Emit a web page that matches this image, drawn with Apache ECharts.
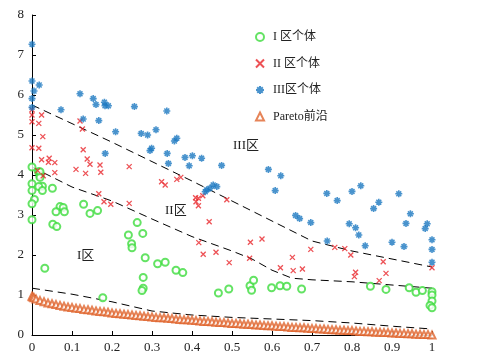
<!DOCTYPE html>
<html>
<head>
<meta charset="utf-8">
<script src="https://cdn.jsdelivr.net/npm/echarts@6/dist/echarts.min.js"></script>
<style>
html,body{margin:0;padding:0;background:#fff;}
#c{width:493px;height:360px;}
</style>
</head>
<body>
<div id="c"></div>
<script>
// ---- data ----
var xTicks = ['0','0.1','0.2','0.3','0.4','0.5','0.6','0.7','0.8','0.9','1'];
var yTicks = ['0','1','2','3','4','5','6','7','8'];

var zone1Points = [
  [0,4.2],[0.016,4.08],[0.02,3.98],[0.02,4.08],[0.02,3.94],[0,3.78],[0,3.61],[0.026,3.72],[0.017,3.71],[0.026,3.61],
  [0.006,3.39],[0,3.28],[0,2.88],[0.051,3.67],[0.07,3.21],[0.06,3.08],[0.078,3.19],[0.081,3.08],[0.052,2.77],[0.062,2.71],
  [0.129,3.27],[0.145,3.04],[0.164,3.11],[0.032,1.67],[0.177,0.93],[0.263,2.81],[0.241,2.5],[0.277,2.54],[0.249,2.28],[0.25,2.18],
  [0.283,1.93],[0.314,1.78],[0.333,1.82],[0.36,1.62],[0.377,1.56],[0.278,1.44],[0.278,1.17],[0.275,1.11],[0.466,1.05],[0.492,1.15],
  [0.545,1.23],[0.554,1.37],[0.549,1.12],[0.599,1.18],[0.62,1.23],[0.637,1.22],[0.674,1.15],[0.846,1.22],[0.885,1.14],[0.943,1.18],
  [0.96,1.07],[0.976,1.11],[1,1.08],[1,1.0],[1,0.85],[0.995,0.74],[1,0.68]
];

var zone2Points = [
  [0,5.63],[0,5.5],[0.024,5.5],[0,5.33],[0.017,5.29],[0.027,4.96],[0,4.68],[0.017,4.67],[0.024,4.38],[0.043,4.42],
  [0.041,4.32],[0.057,4.31],[0.057,4.06],[0.12,5.35],[0.126,5.15],[0.128,4.63],[0.138,4.4],[0.145,4.27],[0.11,4.14],[0.134,4.04],
  [0.17,4.25],[0.172,4.07],[0.028,3.98],[0.014,4.11],[0.167,3.53],[0.18,3.33],[0.197,3.27],[0.243,4.21],[0.324,3.83],[0.333,3.75],
  [0.362,3.89],[0.372,3.94],[0.409,3.43],[0.416,3.42],[0.427,3.48],[0.487,3.38],[0.243,3.29],[0.41,3.33],[0.416,3.23],[0.443,2.83],
  [0.417,2.31],[0.428,2.02],[0.46,2.07],[0.493,1.81],[0.546,2.32],[0.575,2.4],[0.544,1.92],[0.621,1.68],[0.651,1.94],[0.653,1.61],
  [0.697,2.14],[0.757,2.19],[0.782,2.16],[0.797,2.0],[0.676,1.65],[0.878,1.83],[0.809,1.57],[0.806,1.46],[0.885,1.54],[0.868,1.36],
  [1,1.68]
];

var zone3Points = [
  [0,7.27],[0,6.35],[0.005,6.1],[0.018,6.25],[0,5.91],[0,5.69],[0.0725,5.63],[0.12,6.03],[0.128,5.4],[0.153,5.91],
  [0.16,5.76],[0.167,5.36],[0.181,5.82],[0.1825,5.73],[0.191,5.73],[0.209,5.08],[0.183,4.54],[0.256,5.71],[0.337,5.6],[0.273,5.04],
  [0.289,5.0],[0.31,5.13],[0.356,4.85],[0.362,4.92],[0.299,4.67],[0.295,4.61],[0.338,4.54],[0.3825,4.44],[0.401,4.48],[0.424,4.42],
  [0.341,4.29],[0.393,4.23],[0.474,4.24],[0.437,3.63],[0.445,3.67],[0.453,3.75],[0.462,3.71],[0.433,3.58],[0.591,4.14],[0.622,3.98],
  [0.608,3.61],[0.659,2.99],[0.669,2.91],[0.697,2.81],[0.737,3.54],[0.763,3.36],[0.8,3.59],[0.822,3.73],[0.793,2.78],[0.809,2.68],
  [0.817,2.5],[0.833,2.23],[0.738,2.35],[0.854,3.16],[0.867,3.32],[0.9,2.32],[0.917,3.53],[0.946,3.03],[0.935,2.79],[0.988,2.78],
  [0.983,2.66],[0.93,2.21],[1,2.38],[1,2.14],[1,1.82]
];

var paretoX = [0,0.002,0.005,0.01,0.02,0.03,0.04,0.05,0.06,0.07,0.08,0.09,0.10,0.11,0.12,0.13,0.14,0.15,0.16,0.17,0.18,0.19,
  0.20,0.21,0.22,0.23,0.24,0.25,0.26,0.27,0.28,0.29,0.30,0.31,0.32,0.33,0.34,0.35,0.36,0.37,0.38,0.39,
  0.40,0.41,0.42,0.43,0.44,0.45,0.46,0.47,0.48,0.49,0.50,0.51,0.52,0.53,0.54,0.55,0.56,0.57,0.58,0.59,
  0.60,0.61,0.62,0.63,0.64,0.65,0.66,0.67,0.68,0.69,0.70,0.71,0.72,0.73,0.74,0.75,0.76,0.77,0.78,0.79,
  0.80,0.81,0.82,0.83,0.84,0.85,0.86,0.87,0.88,0.89,0.90,0.91,0.92,0.93,0.94,0.95,0.96,0.97,0.98,0.99,1.00];
var paretoY = [0.97,0.95,0.93,0.9,0.86,0.83,0.8,0.78,0.76,0.74,0.72,0.7,0.69,0.67,0.66,0.64,0.63,0.62,0.6,0.59,0.58,0.57,
  0.55,0.54,0.53,0.52,0.51,0.5,0.49,0.48,0.47,0.46,0.45,0.44,0.43,0.43,0.42,0.41,0.4,0.39,0.38,0.38,
  0.37,0.36,0.35,0.34,0.34,0.33,0.32,0.31,0.31,0.3,0.29,0.29,0.28,0.27,0.27,0.26,0.25,0.25,0.24,0.23,
  0.23,0.22,0.21,0.21,0.2,0.19,0.19,0.18,0.18,0.17,0.16,0.16,0.15,0.15,0.14,0.13,0.13,0.12,0.12,0.11,
  0.11,0.1,0.09,0.09,0.08,0.08,0.07,0.07,0.06,0.06,0.05,0.05,0.04,0.04,0.03,0.03,0.02,0.02,0.01,0.01,0.0];

var boundary32 = [[0,5.75],[0.2,4.82],[0.4,3.85],[0.55,3.1],[0.7,2.35],[0.8,2.1],[0.9,1.9],[1,1.7]];
var boundary21 = [[0,4.2],[0.1,3.7],[0.2,3.35],[0.3,2.9],[0.4,2.46],[0.5,2.1],[0.55,1.9],[0.6,1.62],[0.65,1.42],[0.7,1.38],[0.8,1.33],[0.9,1.25],[1,1.17]];
var boundary1P = [[0,1.17],[0.1,1.02],[0.2,0.83],[0.3,0.6],[0.4,0.5],[0.5,0.44],[0.6,0.4],[0.7,0.36],[0.8,0.3],[0.9,0.22],[1,0.15]];

var seriesNames = ['I 区个体','II 区个体','III区个体','Pareto前沿'];
var regionLabels = ['III区','II区','I区'];

// ---- chart ----
var serif = '"Liberation Serif","Times New Roman","Noto Sans CJK SC",serif';
var paretoPoints = paretoX.map(function(x,i){return [x,paretoY[i]];});
function dashed(d){
  return {type:'line',data:d,symbol:'none',silent:true,z:1,
    lineStyle:{color:'#000',width:1,type:[8,5]}};
}
var chart = echarts.init(document.getElementById('c'));
chart.setOption({
  animation:false,
  backgroundColor:'#fff',
  grid:{left:32,right:61,top:15,bottom:25,containLabel:false},
  xAxis:{type:'value',min:0,max:1,interval:0.1,
    axisLine:{show:true,onZero:false,lineStyle:{color:'#000',width:1}},
    axisTick:{show:true,inside:true,length:4,lineStyle:{color:'#000'}},
    splitLine:{show:false},
    axisLabel:{color:'#222',fontFamily:serif,fontSize:13,margin:6,
      formatter:function(v){var i=Math.round(v*10);return xTicks[i];}}
  },
  yAxis:{type:'value',min:0,max:8,interval:1,
    axisLine:{show:true,onZero:false,lineStyle:{color:'#000',width:1}},
    axisTick:{show:true,inside:true,length:4,lineStyle:{color:'#000'}},
    splitLine:{show:false},
    axisLabel:{color:'#222',fontFamily:serif,fontSize:13,margin:8,
      formatter:function(v){return yTicks[Math.round(v)];}}
  },
  legend:{orient:'vertical',left:250,top:26,itemWidth:8,itemHeight:8,itemGap:14.5,
    data:seriesNames,
    textStyle:{fontFamily:serif,fontSize:12,color:'#222',padding:[0,0,0,4]}},
  graphic:[
    {type:'text',left:233,top:139,style:{text:regionLabels[0],font:'13px '+serif,fill:'#222'}},
    {type:'text',left:165,top:204,style:{text:regionLabels[1],font:'13px '+serif,fill:'#222'}},
    {type:'text',left:77,top:249,style:{text:regionLabels[2],font:'13px '+serif,fill:'#222'}}
  ],
  series:[
    dashed(boundary32), dashed(boundary21), dashed(boundary1P),
    {name:seriesNames[0],type:'scatter',data:zone1Points,symbol:'emptyCircle',symbolSize:7,
      itemStyle:{color:'#3ddc3d',borderColor:'#3ddc3d',borderWidth:1},z:3},
    {name:seriesNames[1],type:'scatter',data:zone2Points,symbol:'path://M0,0L10,10M10,0L0,10',symbolSize:5,
      itemStyle:{color:'#e8262b',borderColor:'#e8262b',borderWidth:1.3},z:3},
    {name:seriesNames[2],type:'scatter',data:zone3Points,symbol:'path://M5,0L5,10M0,5L10,5M1.5,1.5L8.5,8.5M8.5,1.5L1.5,8.5',symbolSize:7,
      itemStyle:{color:'#1c78c0',borderColor:'#1c78c0',borderWidth:1.6},z:3},
    {name:seriesNames[3],type:'scatter',data:paretoPoints,symbol:'emptyTriangle',symbolSize:7,
      itemStyle:{color:'#e0652e',borderColor:'#e0652e',borderWidth:1},z:2}
  ]
});
</script>
</body>
</html>
